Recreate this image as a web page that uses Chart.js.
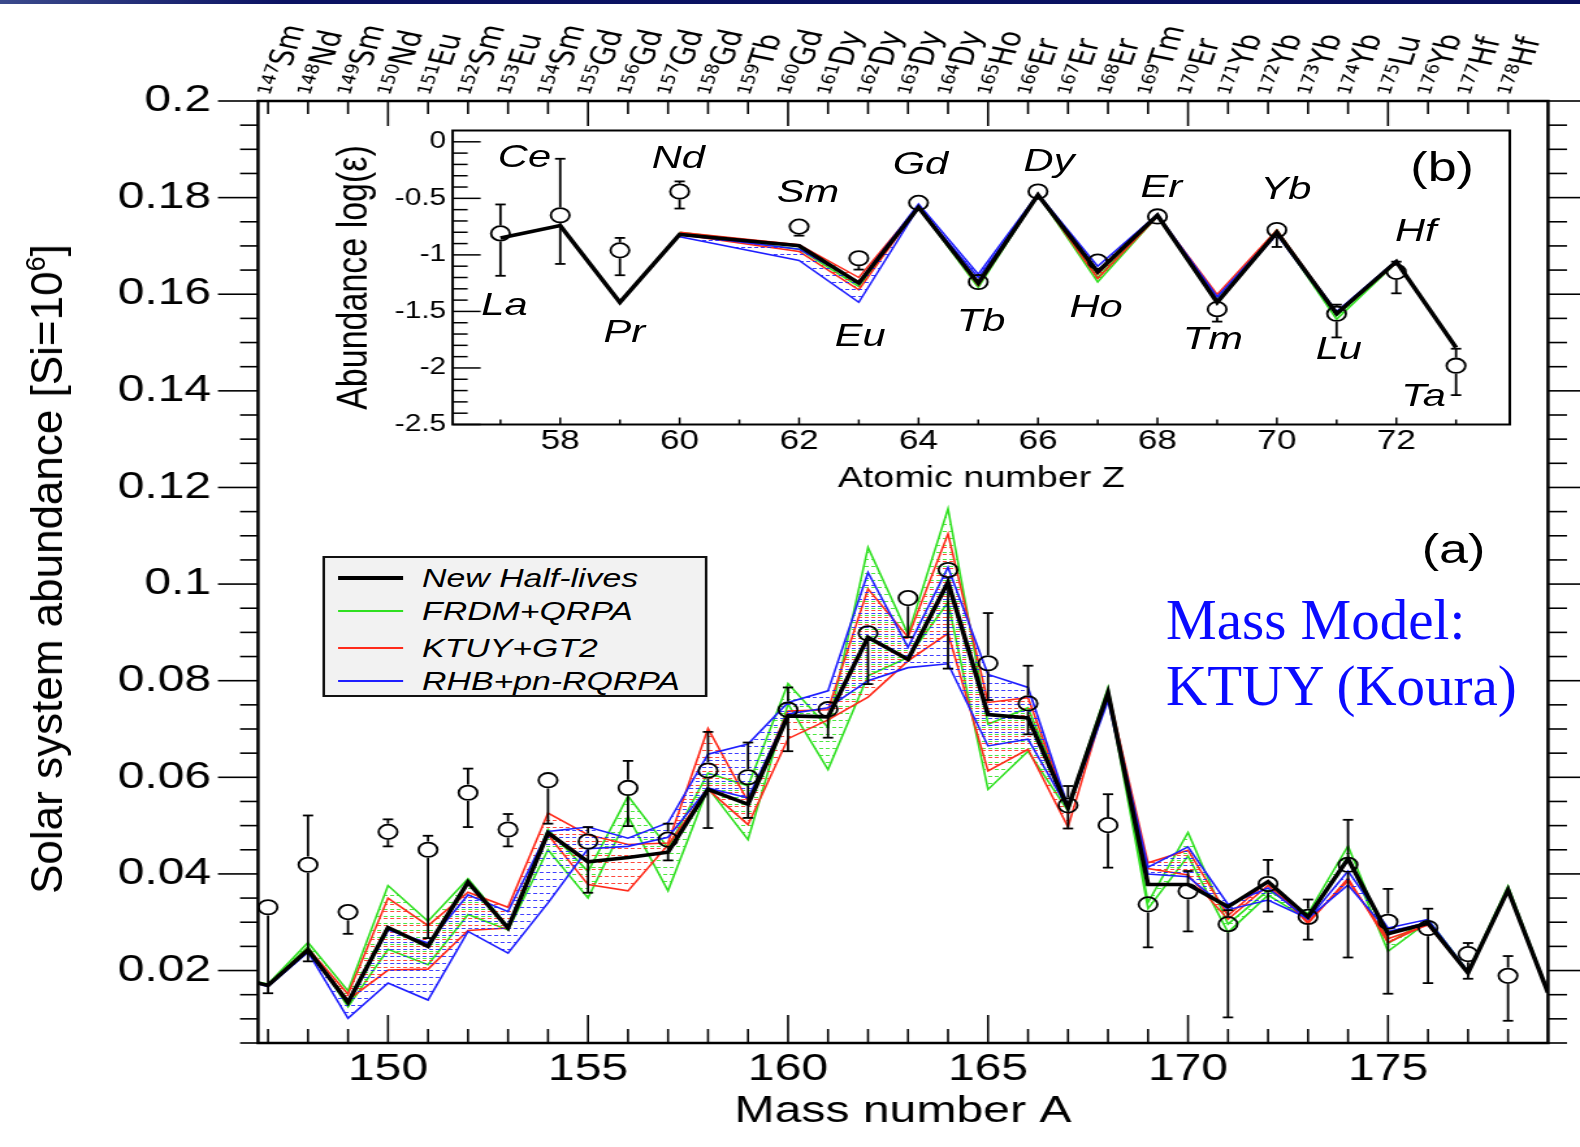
<!DOCTYPE html>
<html>
<head>
<meta charset="utf-8">
<script src="https://cdn.jsdelivr.net/npm/chart.js@4.4.1/dist/chart.umd.min.js"></script>
<style>
  html, body { margin: 0; padding: 0; background: #fff; }
  body { width: 1580px; height: 1147px; position: relative; overflow: hidden; font-family: "Liberation Sans", Arial, sans-serif; }
  #topbar { position: absolute; left: 0; top: 0; width: 1580px; height: 4px; background: linear-gradient(to right, #3b4a8c 0%, #0b1262 18%, #0a1160 100%); }
  #wrap { position: absolute; left: 0; top: 0; width: 1215px; height: 1147px; transform: scaleX(1.30041); transform-origin: 0 0; }
  #mainBox { position: absolute; left: 0; top: 0; width: 1215px; height: 1147px; }
  #insetBox { position: absolute; left: 240px; top: 110px; width: 930px; height: 380px; }
  .lbl { position: absolute; transform: translate(-50%, -50%); line-height: 1; white-space: nowrap; color: #000; }
  .el { font-style: italic; font-size: 32px; }
  .tag { font-size: 40px; }
  #legend { position: absolute; left: 247.6px; top: 556px; width: 296px; height: 141px; background: #f2f2f2; border: 2px solid #111; box-sizing: border-box; }
  .lg-line { position: absolute; left: 10px; width: 50px; }
  .lg-txt { position: absolute; left: 75px; font-style: italic; font-size: 26px; line-height: 1; transform: translateY(-50%); white-space: nowrap; }
  #ytitle { position: absolute; left: 47px; top: 569px; transform: translate(-50%, -50%) rotate(-90deg); font-size: 44px; line-height: 1; white-space: nowrap; }
  #ytitle span { font-size: 27px; position: relative; top: -17px; }
  #massModel { position: absolute; left: 1166px; top: 587px; font-family: "Liberation Serif", "Times New Roman", serif; font-size: 57px; line-height: 66px; color: #0a0aff; white-space: nowrap; }
</style>
</head>
<body>
<div id="topbar"></div>
<div id="wrap">
  <div id="mainBox"><canvas id="mainChart"></canvas></div>
  <div id="insetBox"><canvas id="insetChart"></canvas></div>

  <div id="legend">
    <div class="lg-line" style="top:18px;height:4px;background:#000"></div>
    <div class="lg-txt" style="top:20px">New Half-lives</div>
    <div class="lg-line" style="top:52px;height:2px;background:#2fe020"></div>
    <div class="lg-txt" style="top:53px">FRDM+QRPA</div>
    <div class="lg-line" style="top:89px;height:2px;background:#ff2a1a"></div>
    <div class="lg-txt" style="top:90px">KTUY+GT2</div>
    <div class="lg-line" style="top:122px;height:2px;background:#1e1eff"></div>
    <div class="lg-txt" style="top:123px">RHB+pn-RQRPA</div>
  </div>

  <div class="lbl tag" style="left:1117.7px;top:549px">(a)</div>
  <div class="lbl tag" style="left:1109px;top:167px">(b)</div>

  <div class="lbl el" style="left:403.3px;top:156px">Ce</div>
  <div class="lbl el" style="left:387.9px;top:304px">La</div>
  <div class="lbl el" style="left:480px;top:331px">Pr</div>
  <div class="lbl el" style="left:521.6px;top:157px">Nd</div>
  <div class="lbl el" style="left:621.4px;top:191px">Sm</div>
  <div class="lbl el" style="left:661.4px;top:335px">Eu</div>
  <div class="lbl el" style="left:707.8px;top:163px">Gd</div>
  <div class="lbl el" style="left:754.4px;top:320px">Tb</div>
  <div class="lbl el" style="left:806.7px;top:160px">Dy</div>
  <div class="lbl el" style="left:842.8px;top:306px">Ho</div>
  <div class="lbl el" style="left:893.1px;top:186px">Er</div>
  <div class="lbl el" style="left:932.6px;top:338px">Tm</div>
  <div class="lbl el" style="left:988.8px;top:188px">Yb</div>
  <div class="lbl el" style="left:1029.5px;top:348px">Lu</div>
  <div class="lbl el" style="left:1088.7px;top:230px">Hf</div>
  <div class="lbl el" style="left:1094.7px;top:395px">Ta</div>
</div>
<div id="ytitle">Solar system abundance [Si=10<span>6</span>]</div>
<div id="massModel">Mass Model:<br>KTUY (Koura)</div>

<script>
(function () {
    "use strict";

    // ---- panel (a): abundances vs mass number ----
    const massA = [146, 147, 148, 149, 150, 151, 152, 153, 154, 155, 156, 157, 158, 159, 160, 161, 162,
        163, 164, 165, 166, 167, 168, 169, 170, 171, 172, 173, 174, 175, 176, 177, 178, 179];
    const newHalfLives = [0.0190, 0.0169, 0.0243, 0.0134, 0.0289, 0.0250, 0.0383, 0.0288, 0.0485, 0.0425, 0.0434,
        0.0445, 0.0575, 0.0544, 0.0727, 0.0725, 0.0890, 0.0844, 0.1004, 0.0730, 0.0723, 0.0537, 0.0775, 0.0378,
        0.0378, 0.0332, 0.0384, 0.0311, 0.0431, 0.0276, 0.0298, 0.0195, 0.0367, 0.0154];
    const frdmHi = [0.0190, 0.0172, 0.0258, 0.0158, 0.0376, 0.0302, 0.0390, 0.0291, 0.0492, 0.0405, 0.0561,
        0.0454, 0.0609, 0.0582, 0.0794, 0.0703, 0.1076, 0.0896, 0.1156, 0.0710, 0.0744, 0.0540, 0.0786, 0.0341,
        0.0486, 0.0296, 0.0366, 0.0318, 0.0458, 0.0256, 0.0306, 0.0198, 0.0375, 0.0156];
    const frdmLo = [0.0190, 0.0169, 0.0250, 0.0125, 0.0244, 0.0212, 0.0316, 0.0284, 0.0450, 0.0350, 0.0519,
        0.0365, 0.0578, 0.0471, 0.0752, 0.0616, 0.0810, 0.0848, 0.0962, 0.0575, 0.0654, 0.0530, 0.0775, 0.0328,
        0.0437, 0.0279, 0.0356, 0.0306, 0.0436, 0.0240, 0.0301, 0.0194, 0.0371, 0.0156];
    const ktuyHi = [0.0190, 0.0170, 0.0246, 0.0151, 0.0350, 0.0293, 0.0362, 0.0331, 0.0526, 0.0481, 0.0461,
        0.0464, 0.0701, 0.0550, 0.0737, 0.0740, 0.0990, 0.0890, 0.1104, 0.0755, 0.0765, 0.0537, 0.0778, 0.0423,
        0.0449, 0.0314, 0.0386, 0.0297, 0.0391, 0.0258, 0.0296, 0.0195, 0.0366, 0.0156];
    const ktuyLo = [0.0190, 0.0169, 0.0243, 0.0139, 0.0201, 0.0203, 0.0283, 0.0288, 0.0481, 0.0378, 0.0365,
        0.0460, 0.0575, 0.0502, 0.0680, 0.0719, 0.0766, 0.0841, 0.0898, 0.0613, 0.0658, 0.0497, 0.0775, 0.0411,
        0.0398, 0.0306, 0.0376, 0.0301, 0.0386, 0.0266, 0.0294, 0.0195, 0.0364, 0.0156];
    const rhbHi = [0.0190, 0.0169, 0.0240, 0.0137, 0.0284, 0.0257, 0.0357, 0.0322, 0.0488, 0.0497, 0.0474,
        0.0506, 0.0648, 0.0669, 0.0755, 0.0779, 0.1024, 0.0869, 0.1035, 0.0813, 0.0786, 0.0540, 0.0770, 0.0414,
        0.0456, 0.0337, 0.0371, 0.0306, 0.0406, 0.0288, 0.0306, 0.0198, 0.0368, 0.0156];
    const rhbLo = [0.0190, 0.0167, 0.0238, 0.0101, 0.0174, 0.0139, 0.0281, 0.0236, 0.0340, 0.0452, 0.0457,
        0.0476, 0.0578, 0.0557, 0.0731, 0.0744, 0.0800, 0.0827, 0.0835, 0.0665, 0.0679, 0.0535, 0.0758, 0.0400,
        0.0394, 0.0326, 0.0346, 0.0308, 0.0377, 0.0281, 0.0299, 0.0196, 0.0364, 0.0156];

    const obsA = [147, 148, 149, 150, 151, 152, 153, 154, 155, 156, 157, 158, 159, 160, 161, 162, 163, 164,
        165, 166, 167, 168, 169, 170, 171, 172, 173, 174, 175, 176, 177, 178];
    const obsAbund = [0.0331, 0.0419, 0.0321, 0.0487, 0.0450, 0.0568, 0.0492, 0.0594, 0.0467, 0.0578, 0.0471,
        0.0614, 0.0600, 0.0740, 0.0741, 0.0898, 0.0971, 0.1029, 0.0836, 0.0753, 0.0542, 0.0501, 0.0337, 0.0364,
        0.0296, 0.0379, 0.0311, 0.0419, 0.0301, 0.0288, 0.0234, 0.0189];
    const obsLo = [0.0153, 0.0219, 0.0276, 0.0457, 0.0267, 0.0497, 0.0457, 0.0504, 0.0361, 0.0499, 0.0428,
        0.0495, 0.0516, 0.0654, 0.0682, 0.0793, 0.0890, 0.0825, 0.0760, 0.0689, 0.0494, 0.0413, 0.0248, 0.0281,
        0.0103, 0.0322, 0.0264, 0.0227, 0.0152, 0.0174, 0.0183, 0.0096];
    const obsHi = [0.0331, 0.0521, 0.0321, 0.0513, 0.0479, 0.0618, 0.0524, 0.0594, 0.0497, 0.0634, 0.0504,
        0.0694, 0.0672, 0.0786, 0.0741, 0.0914, 0.0971, 0.1029, 0.0940, 0.0831, 0.0582, 0.0565, 0.0337, 0.0406,
        0.0325, 0.0429, 0.0347, 0.0512, 0.0369, 0.0328, 0.0257, 0.0230];

    const topSymbols = ["Sm", "Nd", "Sm", "Nd", "Eu", "Sm", "Eu", "Sm", "Gd", "Gd", "Gd", "Gd", "Tb", "Gd",
        "Dy", "Dy", "Dy", "Dy", "Ho", "Er", "Er", "Er", "Tm", "Er", "Yb", "Yb", "Yb", "Yb", "Lu", "Yb", "Hf", "Hf"];

    // ---- panel (b): abundances vs atomic number ----
    const atomicZ = [57, 58, 59, 60, 62, 63, 64, 65, 66, 67, 68, 69, 70, 71, 72, 73];
    const insetNew = [-0.85, -0.74, -1.42, -0.82, -0.92, -1.25, -0.58, -1.25, -0.47, -1.15, -0.65, -1.42,
        -0.80, -1.52, -1.06, -1.82];
    const obsLogEps = [-0.81, -0.65, -0.96, -0.44, -0.75, -1.03, -0.54, -1.24, -0.44, -1.06, -0.66, -1.48,
        -0.78, -1.52, -1.15, -1.98];
    const obsLogLo = [-1.185, -1.08, -1.18, -0.59, -0.83, -1.13, -0.54, -1.24, -0.44, -1.06, -0.66, -1.59,
        -0.93, -1.73, -1.34, -2.24];
    const obsLogHi = [-0.554, -0.15, -0.85, -0.35, -0.75, -1.03, -0.54, -1.24, -0.44, -1.06, -0.66, -1.48,
        -0.71, -1.44, -1.06, -1.83];
    const modelZ = [60, 62, 63, 64, 65, 66, 67, 68, 69, 70, 71, 72];
    const zFrdmHi = [-0.80, -0.92, -1.24, -0.57, -1.27, -0.46, -1.20, -0.65, -1.38, -0.78, -1.54, -1.06];
    const zFrdmLo = [-0.81, -0.95, -1.28, -0.58, -1.29, -0.47, -1.24, -0.66, -1.43, -0.80, -1.57, -1.07];
    const zKtuyHi = [-0.80, -0.91, -1.20, -0.57, -1.25, -0.46, -1.17, -0.65, -1.35, -0.78, -1.51, -1.06];
    const zKtuyLo = [-0.82, -0.97, -1.31, -0.58, -1.27, -0.47, -1.21, -0.66, -1.40, -0.80, -1.53, -1.07];
    const zRhbHi = [-0.82, -0.95, -1.24, -0.55, -1.17, -0.46, -1.10, -0.64, -1.37, -0.80, -1.50, -1.05];
    const zRhbLo = [-0.84, -1.05, -1.42, -0.58, -1.20, -0.48, -1.14, -0.66, -1.40, -0.82, -1.53, -1.06];

    const GREEN = "#2fe020", RED = "#ff2a1a", BLUE = "#1e1eff";
    const SUP = "⁰¹²³⁴⁵⁶⁷⁸⁹";
    const NO_GRID = { display: false, drawTicks: false };

    function sup(n) {
        return String(n).split("").map(function (d) { return SUP[+d]; }).join("");
    }

    function xy(xs, ys) {
        return xs.map(function (x, i) { return { x: x, y: ys[i] }; });
    }

    function hatch(color, row) {
        const c = document.createElement("canvas");
        c.width = 5;
        c.height = 7;
        const g = c.getContext("2d");
        g.fillStyle = color;
        g.fillRect(0, row, 3, 1);
        return g.createPattern(c, "repeat");
    }

    function modelLine(data, color, width, fill, pattern) {
        return {
            data: data,
            borderColor: color,
            borderWidth: width,
            pointRadius: 0,
            tension: 0,
            fill: fill ? "-1" : false,
            backgroundColor: pattern || "transparent",
        };
    }

    function obsSet(data) {
        return {
            data: data,
            showLine: false,
            pointRadius: 7.2,
            pointBorderWidth: 1.8,
            pointBorderColor: "#000",
            pointBackgroundColor: "rgba(0,0,0,0)",
        };
    }

    function line(ctx, x1, y1, x2, y2) {
        ctx.beginPath();
        ctx.moveTo(x1, y1);
        ctx.lineTo(x2, y2);
        ctx.stroke();
    }

    function errorBars(xs, vals, lo, hi, r, cap) {
        return {
            id: "errbars",
            afterDatasetsDraw: function (chart) {
                const ctx = chart.ctx, sx = chart.scales.x, sy = chart.scales.y;
                ctx.save();
                ctx.strokeStyle = "#000";
                ctx.lineWidth = 1.8;
                xs.forEach(function (x, i) {
                    const px = sx.getPixelForValue(x);
                    const cy = sy.getPixelForValue(vals[i]);
                    const top = sy.getPixelForValue(hi[i]);
                    const bot = sy.getPixelForValue(lo[i]);
                    if (cy - top > r) {
                        line(ctx, px, top, px, cy - r);
                        line(ctx, px - cap, top, px + cap, top);
                    }
                    if (bot - cy > r) {
                        line(ctx, px, cy + r, px, bot);
                        line(ctx, px - cap, bot, px + cap, bot);
                    }
                });
                ctx.restore();
            },
        };
    }

    const mainFrame = {
        id: "mainFrame",
        afterDraw: function (chart) {
            const ctx = chart.ctx, a = chart.chartArea, sx = chart.scales.x, sy = chart.scales.y;
            ctx.save();
            ctx.strokeStyle = "#000";
            ctx.lineWidth = 1.6;
            for (let m = 147; m <= 178; m++) {
                const px = sx.getPixelForValue(m);
                const major = m % 5 === 0;
                line(ctx, px, a.bottom, px, a.bottom - (major ? 28 : 14));
                line(ctx, px, a.top, px, a.top + (major ? 25 : 13));
            }
            for (let k = 1; k <= 40; k++) {
                const py = sy.getPixelForValue(k * 0.005);
                const major = k % 4 === 0;
                line(ctx, a.left - (major ? 30.8 : 13.8), py, a.left, py);
                line(ctx, a.right, py, a.right + (major ? 30.8 : 14.6), py);
            }
            ctx.lineWidth = 2.5;
            ctx.strokeRect(a.left, a.top, a.right - a.left, a.bottom - a.top);
            ctx.restore();
        },
    };

    const insetFrame = {
        id: "insetFrame",
        beforeDraw: function (chart) {
            const ctx = chart.ctx, a = chart.chartArea;
            ctx.save();
            ctx.fillStyle = "#fff";
            ctx.fillRect(a.left, a.top, a.right - a.left, a.bottom - a.top);
            ctx.restore();
        },
        afterDraw: function (chart) {
            const ctx = chart.ctx, a = chart.chartArea, sx = chart.scales.x, sy = chart.scales.y;
            ctx.save();
            ctx.strokeStyle = "#000";
            ctx.lineWidth = 1.5;
            for (let z = 57; z <= 73; z++) {
                const px = sx.getPixelForValue(z);
                line(ctx, px, a.bottom, px, a.bottom - (z % 2 === 0 ? 7 : 5));
            }
            for (let k = 0; k <= 25; k++) {
                const py = sy.getPixelForValue(-k * 0.1);
                line(ctx, a.left, py, a.left + (k % 5 === 0 ? 21.5 : 11.5), py);
            }
            ctx.lineWidth = 2;
            ctx.strokeRect(a.left, a.top, a.right - a.left, a.bottom - a.top);
            ctx.restore();
        },
    };

    function initMain() {
        const canvas = document.getElementById("mainChart");
        const tickFont = { family: "Liberation Sans", size: 37 };
        new Chart(canvas.getContext("2d"), {
            type: "line",
            data: {
                datasets: [
                    obsSet(xy(obsA, obsAbund)),
                    modelLine(xy(massA, newHalfLives), "#000", 3.6, false),
                    modelLine(xy(massA, rhbHi), BLUE, 1.6, false),
                    modelLine(xy(massA, rhbLo), BLUE, 1.6, true, hatch("rgba(30,30,255,0.85)", 4)),
                    modelLine(xy(massA, ktuyHi), RED, 1.6, false),
                    modelLine(xy(massA, ktuyLo), RED, 1.6, true, hatch("rgba(255,40,26,0.85)", 1)),
                    modelLine(xy(massA, frdmHi), GREEN, 1.6, false),
                    modelLine(xy(massA, frdmLo), GREEN, 1.6, true, hatch("rgba(47,224,32,0.85)", 6)),
                ],
            },
            options: {
                responsive: true,
                maintainAspectRatio: false,
                animation: false,
                events: [],
                layout: { padding: { left: 0, right: 24.6, top: 0, bottom: 0 } },
                plugins: { legend: { display: false }, tooltip: { enabled: false } },
                scales: {
                    x: {
                        type: "linear",
                        position: "bottom",
                        min: 146.75,
                        max: 179,
                        grid: NO_GRID,
                        border: { display: false },
                        ticks: {
                            stepSize: 5,
                            includeBounds: false,
                            autoSkip: false,
                            maxRotation: 0,
                            padding: 5,
                            color: "#000",
                            font: tickFont,
                            callback: function (v) { return String(v); },
                        },
                        title: {
                            display: true,
                            text: "Mass number A",
                            color: "#000",
                            font: { family: "Liberation Sans", size: 37 },
                            padding: { top: 0, bottom: 13 },
                        },
                        afterFit: function (s) { s.height = 104; },
                    },
                    xTop: {
                        type: "linear",
                        position: "top",
                        min: 146.75,
                        max: 179,
                        grid: NO_GRID,
                        border: { display: false },
                        ticks: {
                            stepSize: 1,
                            includeBounds: false,
                            autoSkip: false,
                            minRotation: 75,
                            maxRotation: 75,
                            padding: 1,
                            labelOffset: 33,
                            color: "#000",
                            font: { family: "DejaVu Sans", size: 26 },
                            callback: function (v) {
                                const i = Math.round(v) - 147;
                                return i >= 0 && i < topSymbols.length ? sup(147 + i) + topSymbols[i] : "";
                            },
                        },
                        afterFit: function (s) { s.height = 101; },
                    },
                    y: {
                        type: "linear",
                        position: "left",
                        min: 0.005,
                        max: 0.2,
                        grid: NO_GRID,
                        border: { display: false },
                        ticks: {
                            stepSize: 0.02,
                            includeBounds: false,
                            padding: 36,
                            color: "#000",
                            font: tickFont,
                            callback: function (v) { return Number(v.toFixed(3)).toString(); },
                        },
                        afterFit: function (s) { s.width = 198.4; },
                    },
                },
            },
            plugins: [mainFrame, errorBars(obsA, obsAbund, obsLo, obsHi, 8.2, 4)],
        });
    }

    function initInset() {
        const canvas = document.getElementById("insetChart");
        new Chart(canvas.getContext("2d"), {
            type: "line",
            data: {
                datasets: [
                    obsSet(xy(atomicZ, obsLogEps)),
                    modelLine(xy(atomicZ, insetNew), "#000", 3.6, false),
                    modelLine(xy(modelZ, zRhbHi), BLUE, 1.5, false),
                    modelLine(xy(modelZ, zRhbLo), BLUE, 1.5, true, hatch("rgba(30,30,255,0.85)", 4)),
                    modelLine(xy(modelZ, zKtuyHi), RED, 1.5, false),
                    modelLine(xy(modelZ, zKtuyLo), RED, 1.5, true, hatch("rgba(255,40,26,0.85)", 1)),
                    modelLine(xy(modelZ, zFrdmHi), GREEN, 1.5, false),
                    modelLine(xy(modelZ, zFrdmLo), GREEN, 1.5, true, hatch("rgba(47,224,32,0.85)", 6)),
                ],
            },
            options: {
                responsive: true,
                maintainAspectRatio: false,
                animation: false,
                events: [],
                layout: { padding: { left: 0, right: 8, top: 20.5, bottom: 0 } },
                plugins: { legend: { display: false }, tooltip: { enabled: false } },
                scales: {
                    x: {
                        type: "linear",
                        min: 56.2,
                        max: 73.9,
                        grid: NO_GRID,
                        border: { display: false },
                        ticks: {
                            stepSize: 2,
                            includeBounds: false,
                            autoSkip: false,
                            maxRotation: 0,
                            padding: 1,
                            color: "#000",
                            font: { family: "Liberation Sans", size: 27 },
                            callback: function (v) { return String(v); },
                        },
                        title: {
                            display: true,
                            text: "Atomic number Z",
                            color: "#000",
                            font: { family: "Liberation Sans", size: 29 },
                            padding: { top: 0, bottom: -6 },
                        },
                        afterFit: function (s) { s.height = 65.5; },
                    },
                    y: {
                        type: "linear",
                        min: -2.5,
                        max: 0.1,
                        grid: NO_GRID,
                        border: { display: false },
                        ticks: {
                            stepSize: 0.5,
                            includeBounds: false,
                            padding: 5,
                            color: "#000",
                            font: { family: "Liberation Sans", size: 23 },
                            callback: function (v) { return Number(v.toFixed(1)).toString(); },
                        },
                        title: {
                            display: true,
                            text: "Abundance log(ε)",
                            color: "#000",
                            font: { family: "Liberation Sans", size: 34 },
                            padding: { top: 12, bottom: 0 },
                        },
                        afterFit: function (s) { s.width = 108.1; },
                    },
                },
            },
            plugins: [insetFrame, errorBars(atomicZ, obsLogEps, obsLogLo, obsLogHi, 8, 4)],
        });
    }

    document.addEventListener("DOMContentLoaded", function () {
        initMain();
        initInset();
    });
})();
</script>
</body>
</html>
